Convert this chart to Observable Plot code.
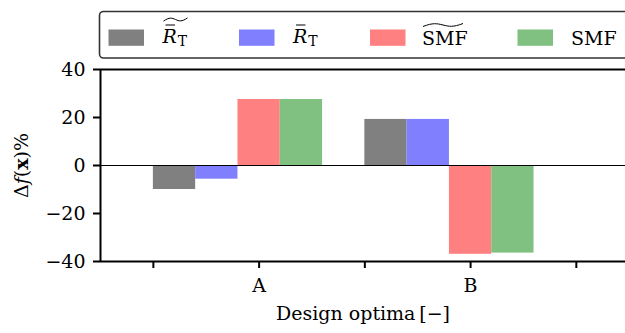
<!DOCTYPE html>
<html>
<head>
<meta charset="utf-8">
<script src="https://cdn.jsdelivr.net/npm/d3@7"></script>
<script src="https://cdn.jsdelivr.net/npm/@observablehq/plot@0.6"></script>
<style>
  html, body { margin: 0; padding: 0; background: #fff; width: 625px; height: 333px; overflow: hidden; }
  #chart svg { display: block; }
</style>
</head>
<body>
<div id="chart"></div>
<script>
// ---- data ----
const categories = ["A", "B"];
const seriesKeys = ["RtildeBar", "Rbar", "SMFtilde", "SMF"];
const seriesColors = ["#808080", "#8080ff", "#ff8080", "#80c080"];
const valuesRtildeBar = [-10, 19.2];
const valuesRbar = [-5.7, 19.2];
const valuesSMFtilde = [27.5, -37];
const valuesSMF = [27.5, -36.5];
const xTickPositions = [0, 1, 2, 3, 4];
const xTickLabels = ["", "A", "", "B", ""];
const yTicks = [-40, -20, 0, 20, 40];
const xLabel = "Design optima\u2009[\u2212]";
const yLabel = "\u0394f(x)%";

// ---- table ----
const seriesValues = [valuesRtildeBar, valuesRbar, valuesSMFtilde, valuesSMF];
const barWidth = 0.4;
const rows = [];
categories.forEach((cat, g) => {
  seriesKeys.forEach((s, i) => {
    const x1 = 2 * g + i * barWidth;
    rows.push({cat, series: s, value: seriesValues[i][g], x1, x2: x1 + barWidth});
  });
});

const FONT = "DejaVu Serif";
const FS = 19;
const chart = Plot.plot({
  width: 625,
  height: 333,
  marginTop: 69,
  marginBottom: 72,
  marginLeft: 100,
  marginRight: 0,
  x: {domain: [-0.5, 4.465]},
  y: {domain: [-40, 40]},
  color: {domain: seriesKeys, range: seriesColors},
  style: {fontFamily: FONT, fontSize: FS + "px", color: "#000", background: "#fff", overflow: "visible"},
  marks: [
    Plot.rect(rows, {x1: "x1", x2: "x2", y1: 0, y2: "value", fill: "series"}),
    Plot.ruleY([0], {stroke: "#000", strokeWidth: 1.1}),
    Plot.ruleX([-0.5], {stroke: "#000", strokeWidth: 2}),
    Plot.ruleY([-40, 40], {stroke: "#000", strokeWidth: 2}),
    Plot.axisX({ticks: xTickPositions, tickFormat: (d) => xTickLabels[xTickPositions.indexOf(d)], tickSize: 7, tickPadding: 10, strokeWidth: 2, fontSize: FS, label: null}),
    Plot.axisY({ticks: yTicks, tickSize: 7, tickPadding: 8, strokeWidth: 2, fontSize: FS, label: null}),
    Plot.text([xLabel], {frameAnchor: "bottom", textAnchor: "middle", dy: 58, fontSize: FS, fill: "#000"}),
    Plot.text([yLabel], {frameAnchor: "left", textAnchor: "middle", rotate: -90, dx: -79, fontSize: FS, fill: "#000"})
  ]
});
document.getElementById("chart").appendChild(chart);

const svg = d3.select(chart);

// style the y label (italic f, bold x)
svg.selectAll("text").filter(function () { return this.textContent === yLabel; }).each(function () {
  const t = d3.select(this);
  t.text(null);
  t.append("tspan").text("\u0394");
  t.append("tspan").attr("font-style", "italic").text("f");
  t.append("tspan").text("(");
  t.append("tspan").attr("font-weight", "bold").text("x");
  t.append("tspan").text(")%");
});

// ---- legend ----
const lg = svg.append("g").attr("font-family", FONT).attr("font-size", FS).attr("text-anchor", "start");
lg.append("rect").attr("x", 99.5).attr("y", 11.5).attr("width", 560).attr("height", 46.5)
  .attr("rx", 4).attr("fill", "#fff").attr("stroke", "#333").attr("stroke-width", 1.6);
const patchX = [108.5, 239, 370, 517.5];
const labelX = [162.5, 293, 422, 571];
seriesKeys.forEach((s, i) => {
  lg.append("rect").attr("x", patchX[i]).attr("y", 29.5).attr("width", 35.5).attr("height", 16.3).attr("fill", seriesColors[i]);
});
function tildePath(x0, x1, yMid, amp) {
  const w = x1 - x0;
  return `M${x0},${yMid + amp} C${x0 + w * 0.25},${yMid - amp * 1.6} ${x0 + w * 0.35},${yMid - amp} ${x0 + w * 0.5},${yMid} S${x0 + w * 0.75},${yMid + amp * 1.6} ${x1},${yMid - amp}`;
}
function rLabel(x, withTilde) {
  const t = lg.append("text").attr("x", x).attr("y", 43).attr("fill", "#000");
  t.append("tspan").attr("font-style", "italic").text("R");
  t.append("tspan").attr("font-size", 14).attr("dy", 3).attr("dx", 1).text("T");
  lg.append("line").attr("x1", x + 3).attr("x2", x + 12.5).attr("y1", 25).attr("y2", 25).attr("stroke", "#000").attr("stroke-width", 1);
  if (withTilde) {
    lg.append("path").attr("d", tildePath(x + 1, x + 25, 19.5, 1.6)).attr("fill", "none").attr("stroke", "#000").attr("stroke-width", 1);
  }
}
rLabel(labelX[0], true);
rLabel(labelX[1], false);
function smfLabel(x, withTilde) {
  lg.append("text").attr("x", x).attr("y", 45).attr("fill", "#000").text("SMF");
  if (withTilde) {
    lg.append("path").attr("d", tildePath(x + 1, x + 41, 25, 1.5)).attr("fill", "none").attr("stroke", "#000").attr("stroke-width", 1);
  }
}
smfLabel(labelX[2], true);
smfLabel(labelX[3], false);
</script>
</body>
</html>
